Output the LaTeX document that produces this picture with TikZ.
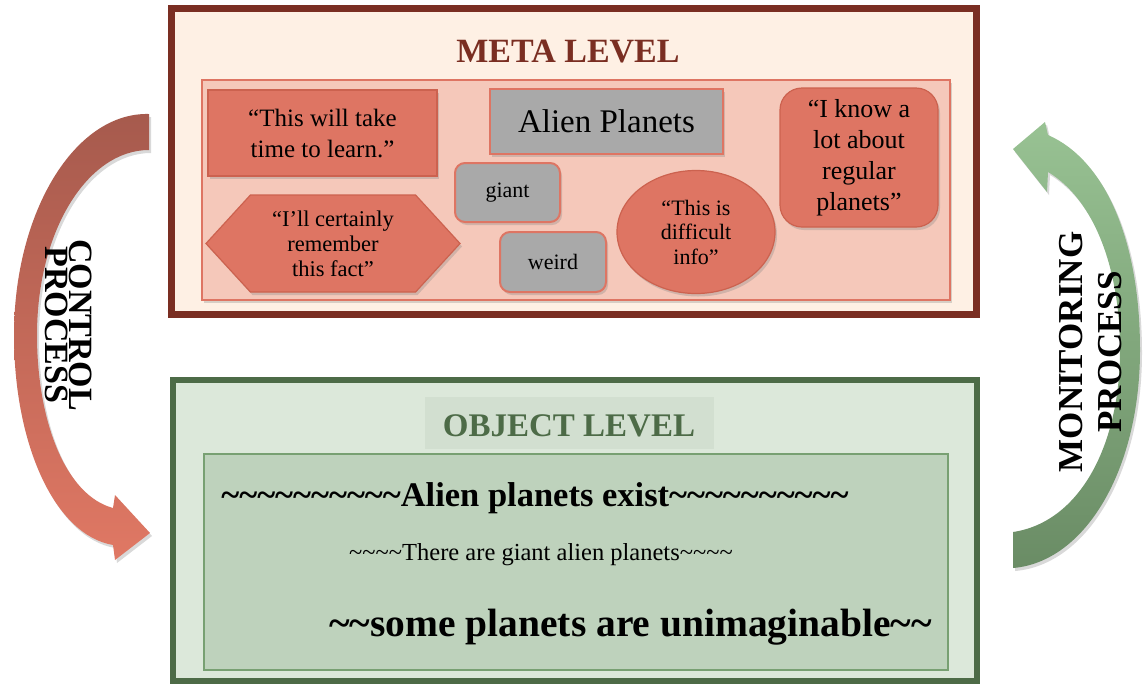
\documentclass[tikz,border=0pt]{standalone}
\usepackage{fontspec}
\setmainfont{Liberation Serif}
\usetikzlibrary{shapes.geometric,shapes.symbols,shadows}

\definecolor{metadark}{HTML}{7A2E22}
\definecolor{metabg}{HTML}{FEF0E4}
\definecolor{metainner}{HTML}{F5C8BA}
\definecolor{salmon}{HTML}{DE7563}
\definecolor{salmonline}{HTML}{CC624F}
\definecolor{greybox}{HTML}{A9A9A9}
\definecolor{objdark}{HTML}{4D6B47}
\definecolor{objbg}{HTML}{DCE8DA}
\definecolor{objlabel}{HTML}{D2DFD0}
\definecolor{objinner}{HTML}{BED2BC}
\definecolor{objline}{HTML}{78A072}
\definecolor{ctrltop}{HTML}{A65A4D}
\definecolor{ctrlbot}{HTML}{E07864}
\definecolor{montop}{HTML}{98C293}
\definecolor{monbot}{HTML}{6A8C65}

\newcommand{\waves}[1]{\foreach \w in {1,...,#1}{\textasciitilde}}
\newcommand{\fsz}[2]{\fontsize{#1}{#2}\selectfont}

\tikzset{
  soft/.style={drop shadow={opacity=0.3,shadow xshift=2pt,shadow yshift=-3pt}},
  quote/.style={fill=salmon, draw=salmonline, line width=1.2pt, align=center, inner sep=0pt, soft},
  word/.style={fill=greybox, draw=salmon, line width=2pt, inner sep=0pt, soft},
  level/.style={line width=6.5pt, inner sep=0pt}
}

\begin{document}
\begin{tikzpicture}[x=1pt,y=-1pt]
\useasboundingbox (0,0) rectangle (1143,686);

\shade[soft, top color=ctrltop, bottom color=ctrlbot]
  (149,114) .. controls (75,112) and (14,212) .. (14,335)
  .. controls (14,445) and (55,535) .. (113,545)
  -- (115,560) -- (150,533) -- (115,495) -- (113,508)
  .. controls (65,495) and (37,420) .. (37,335)
  .. controls (37,230) and (88,150) .. (149,150) -- cycle;
\shade[soft, top color=montop, bottom color=monbot]
  (1013,568) .. controls (1085,562) and (1140,470) .. (1140,350)
  .. controls (1140,240) and (1105,160) .. (1048,135)
  -- (1045,122) -- (1013,149) -- (1047,192) -- (1048,172)
  .. controls (1095,200) and (1120,270) .. (1120,350)
  .. controls (1120,445) and (1080,522) .. (1013,532) -- cycle;

\node[rotate=-90, align=center, font=\fsz{34}{24}\bfseries] (control) at (69,325) {CONTROL\\PROCESS};
\node[rotate=90, align=center, font=\fsz{35}{39}\bfseries] (monitor) at (1091,352) {MONITORING\\PROCESS};

\node[level, draw=metadark, fill=metabg, minimum width=805pt, minimum height=306pt] (meta) at (574,161.5) {};
\node[anchor=base, text=metadark, font=\fsz{34}{36}\bfseries] (metatitle) at (568,62) {META LEVEL};
\node[fill=metainner, draw=salmon, line width=1.2pt, minimum width=748pt, minimum height=220pt, soft] (metain) at (576,190) {};

\node[quote, minimum width=229pt, minimum height=86pt, font=\fsz{25}{31}] (learn) at (322.5,133) {“This will take\\time to learn.”};
\node[word, minimum width=233pt, minimum height=65pt, font=\fsz{33}{36}] (alien) at (606.5,121.5) {Alien Planets};
\node[word, rounded corners=10pt, minimum width=105pt, minimum height=59pt, font=\fsz{22}{25}] (giant) at (507.5,192.5) {giant};
\node[word, rounded corners=10pt, minimum width=106pt, minimum height=60pt, font=\fsz{22}{25}] (weird) at (553,262) {weird};
\node[quote, signal, signal to=east and west, signal pointer angle=95, minimum width=254pt, minimum height=97pt, font=\fsz{22.5}{25}] (remember) at (333,243.5) {“I’ll certainly\\remember\\this fact”};
\node[quote, ellipse, minimum width=158pt, minimum height=123pt, font=\fsz{22}{24.5}] (difficult) at (696,232) {“This is\\difficult\\info”};
\node[quote, rounded corners=22pt, minimum width=158pt, minimum height=139pt, font=\fsz{26}{31}] (regular) at (859,157.5) {“I know a\\lot about\\regular\\planets”};

\node[level, draw=objdark, fill=objbg, minimum width=804pt, minimum height=301pt] (object) at (575,530.5) {};
\node[fill=objlabel, minimum width=289pt, minimum height=52pt] (objlabel) at (569.5,423) {};
\node[anchor=base, text=objdark, font=\fsz{33}{36}\bfseries] (objtitle) at (569,436) {OBJECT LEVEL};
\node[fill=objinner, draw=objline, line width=1.2pt, minimum width=744pt, minimum height=216pt] (objin) at (576,562) {};

\node[anchor=base, font=\fsz{34.5}{36}\bfseries] (exist) at (535,506) {\waves{10}Alien planets exist\waves{10}};
\node[anchor=base, font=\fsz{24.5}{26}] (giants) at (541,560) {\waves{4}There are giant alien planets\waves{4}};
\node[anchor=base, font=\fsz{39.5}{42}\bfseries] (unimag) at (630.5,636) {\waves{2}some planets are unimaginable\waves{2}};
\end{tikzpicture}
\end{document}
